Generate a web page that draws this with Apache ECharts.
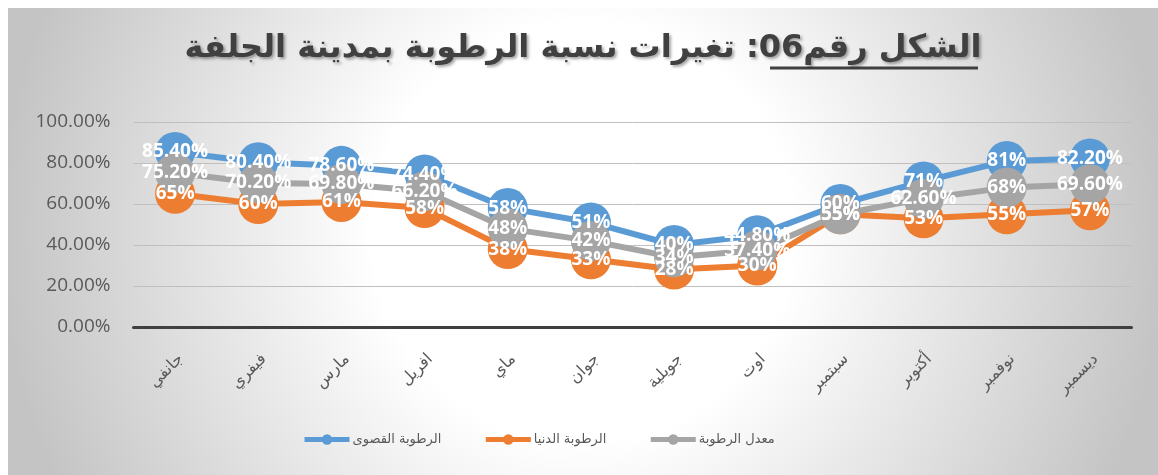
<!DOCTYPE html>
<html lang="ar">
    <head>
        <title>الرطوبة بمدينة الجلفة</title>
        <meta charset="utf-8">
        <script src='https://cdn.jsdelivr.net/npm/echarts@6/dist/echarts.min.js'></script>
    </head>

    <style>
        html, body {
            width: 100%;
            height: 100%;
            margin: 0;
            background: #ffffff;
        }

        #main {
            position: absolute;
            left: 8px;
            top: 8px;
            width: 1150px;
            height: 467px;
        }
    </style>

    <body>
        <div id='main'></div>

        <script>
            const months = ['جانفي', 'فيفري', 'مارس', 'افريل', 'ماي', 'جوان', 'جويلية', 'اوت', 'سبتمبر', 'أكتوبر', 'نوفمبر', 'ديسمبر'];
            const maxHumidity = [85.4, 80.4, 78.6, 74.4, 58, 51, 40, 44.8, 60, 71, 81, 82.2];
            const minHumidity = [65, 60, 61, 58, 38, 33, 28, 30, 55, 53, 55, 57];
            const meanHumidity = [75.2, 70.2, 69.8, 66.2, 48, 42, 34, 37.4, 55, 62.6, 68, 69.6];
            const yTicks = [0, 20, 40, 60, 80, 100];

            // 85.4 -> "85.40%", 58 -> "58%" as in the source sheet
            const pct = v => Number.isInteger(v) ? v + '%' : v.toFixed(2) + '%';

            const makeSeries = (name, data, color) => ({
                name: name,
                type: 'line',
                data: data,
                symbol: 'circle',
                symbolSize: 40,
                lineStyle: { color: color, width: 6 },
                itemStyle: { color: color },
                label: {
                    show: true,
                    position: 'inside',
                    color: '#ffffff',
                    fontFamily: 'Open Sans',
                    fontWeight: 'bold',
                    fontSize: 19,
                    formatter: p => pct(p.value)
                },
                emphasis: { disabled: true },
                animation: false
            });

            const chart = echarts.init(document.getElementById('main'));

            const option = {
                backgroundColor: {
                    type: 'radial', x: 0.5, y: 0.48, r: 1.25,
                    colorStops: [
                        { offset: 0, color: '#ffffff' },
                        { offset: 0.36, color: '#ffffff' },
                        { offset: 1, color: '#c4c4c4' }
                    ]
                },
                title: {
                    text: 'الشكل رقم06: تغيرات نسبة الرطوبة بمدينة الجلفة',
                    left: 'center',
                    top: 20,
                    textStyle: {
                        fontFamily: 'DejaVu Sans',
                        fontWeight: 'bold',
                        fontSize: 32,
                        color: '#404040',
                        textShadowColor: 'rgba(0,0,0,0.35)',
                        textShadowBlur: 3,
                        textShadowOffsetX: 2,
                        textShadowOffsetY: 2
                    }
                },
                graphic: [{
                    type: 'line',
                    shape: { x1: 762, y1: 60, x2: 970, y2: 60 },
                    style: { stroke: '#404040', lineWidth: 3 }
                }],
                legend: {
                    bottom: 24,
                    left: 289,
                    itemWidth: 45,
                    itemHeight: 13,
                    itemGap: 42,
                    lineStyle: { width: 5 },
                    textStyle: { fontFamily: 'DejaVu Sans', fontSize: 13, color: '#595959', padding: [0, 0, 0, -2] },
                    data: ['الرطوبة القصوى', 'الرطوبة الدنيا', 'معدل الرطوبة']
                },
                grid: { left: 125.5, right: 26.5, top: 114, bottom: 148 },
                xAxis: {
                    type: 'category',
                    data: months,
                    boundaryGap: true,
                    axisLine: { lineStyle: { color: '#404040', width: 3 } },
                    axisTick: { show: false },
                    axisLabel: {
                        rotate: 45,
                        margin: 24,
                        verticalAlign: 'top',
                        fontFamily: 'DejaVu Sans',
                        fontSize: 16,
                        color: '#595959'
                    }
                },
                yAxis: {
                    type: 'value',
                    min: yTicks[0],
                    max: yTicks[yTicks.length - 1],
                    interval: 20,
                    axisLine: { show: false },
                    axisTick: { show: false },
                    splitLine: { lineStyle: { color: '#bfbfbf', width: 1 } },
                    axisLabel: {
                        margin: 23,
                        fontFamily: 'Open Sans',
                        fontSize: 19,
                        color: '#595959',
                        formatter: v => v.toFixed(2) + '%'
                    }
                },
                series: [
                    makeSeries('الرطوبة القصوى', maxHumidity, '#5b9bd5'),
                    makeSeries('الرطوبة الدنيا', minHumidity, '#ed7d31'),
                    makeSeries('معدل الرطوبة', meanHumidity, '#a5a5a5')
                ]
            };

            chart.setOption(option);

            window.onresize = function () {
                chart.resize();
            }
        </script>
    </body>
</html>
